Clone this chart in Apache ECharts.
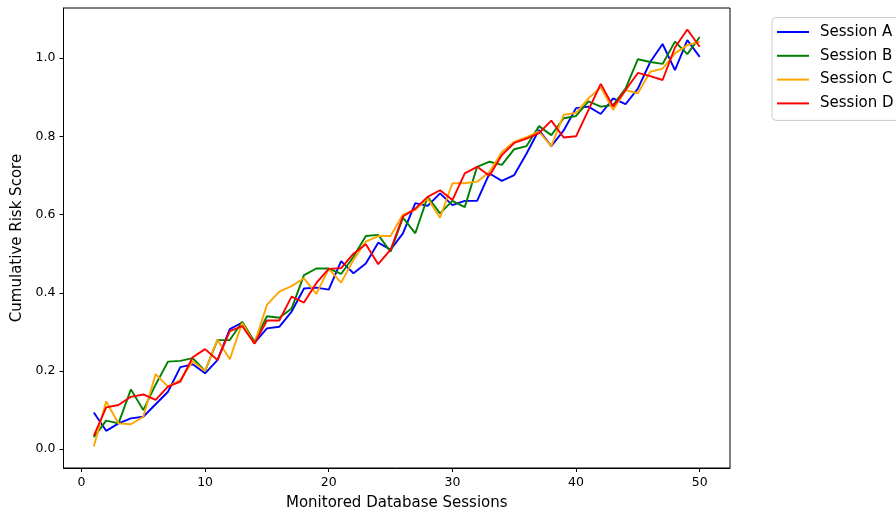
<!DOCTYPE html>
<html>
<head>
<meta charset="utf-8">
<script src="https://cdn.jsdelivr.net/npm/echarts@6/dist/echarts.min.js"></script>
<style>html,body{margin:0;padding:0;background:#fff;}#c{width:896px;height:512px;}</style>
</head>
<body>
<div id="c"></div>
<script>
const sessions = [];
for (let i = 1; i <= 50; i++) sessions.push(i);
const xTicks = [0, 10, 20, 30, 40, 50];
const yTicks = [0.0, 0.2, 0.4, 0.6, 0.8, 1.0];
const seriesNames = ['Session A', 'Session B', 'Session C', 'Session D'];
const seriesColors = ['#0000ff', '#008000', '#ffa500', '#ff0000'];

const sessionA = [0.094,0.047,0.066,0.079,0.083,0.115,0.147,0.210,0.217,0.194,
  0.228,0.307,0.324,0.272,0.309,0.313,0.352,0.411,0.413,0.408,
  0.481,0.450,0.475,0.528,0.510,0.552,0.629,0.622,0.654,0.624,
  0.635,0.635,0.705,0.686,0.701,0.756,0.816,0.775,0.815,0.872,
  0.876,0.857,0.897,0.882,0.922,0.990,1.036,0.969,1.046,1.003];
const sessionB = [0.031,0.073,0.066,0.153,0.100,0.165,0.224,0.226,0.233,0.200,
  0.279,0.279,0.326,0.275,0.340,0.336,0.360,0.445,0.462,0.462,
  0.448,0.492,0.545,0.548,0.505,0.592,0.552,0.645,0.603,0.635,
  0.619,0.722,0.735,0.727,0.767,0.775,0.826,0.803,0.846,0.852,
  0.889,0.876,0.880,0.922,0.997,0.990,0.985,1.042,1.010,1.054];
const sessionC = [0.007,0.122,0.066,0.064,0.083,0.192,0.160,0.177,0.225,0.200,
  0.280,0.230,0.323,0.270,0.369,0.403,0.417,0.437,0.397,0.461,
  0.426,0.484,0.531,0.545,0.545,0.600,0.612,0.641,0.592,0.680,
  0.680,0.684,0.709,0.760,0.786,0.798,0.812,0.775,0.855,0.860,
  0.897,0.925,0.867,0.918,0.910,0.965,0.973,1.012,1.033,1.042];
const sessionD = [0.034,0.107,0.113,0.134,0.140,0.126,0.160,0.173,0.235,0.256,
  0.228,0.302,0.315,0.270,0.329,0.329,0.390,0.375,0.425,0.461,
  0.463,0.500,0.524,0.473,0.510,0.595,0.615,0.645,0.662,0.637,
  0.705,0.722,0.699,0.752,0.783,0.794,0.808,0.840,0.797,0.800,
  0.867,0.934,0.876,0.918,0.962,0.954,0.944,1.027,1.073,1.029];
const allValues = [sessionA, sessionB, sessionC, sessionD];

const FONT = 'DejaVu Sans';
const chart = echarts.init(document.getElementById('c'), null, {renderer: 'canvas'});
chart.setOption({
  animation: false,
  backgroundColor: '#ffffff',
  grid: {left: 63.5, top: 8, right: 166, bottom: 44, outerBoundsMode: 'none', containLabel: false,
    show: true, borderColor: '#000', borderWidth: 1, backgroundColor: 'transparent'},
  legend: {
    orient: 'vertical', left: 772, top: 17.5,
    data: seriesNames.map(n => ({name: n, icon: 'rect'})),
    itemWidth: 32, itemHeight: 2, itemGap: 7.8,
    padding: [6.5, 40, 9, 5],
    borderColor: '#cccccc', borderWidth: 1, borderRadius: 4,
    backgroundColor: '#fff',
    textStyle: {fontFamily: FONT, fontSize: 15, color: '#000', padding: [0, 0, 0, 6], lineHeight: 16}
  },
  xAxis: {
    type: 'value', min: -1.45, max: 52.45,
    name: 'Monitored Database Sessions', nameLocation: 'middle', nameGap: 28,
    nameTextStyle: {fontFamily: FONT, fontSize: 15, color: '#000'},
    axisLine: {show: true, onZero: false, lineStyle: {color: '#000', width: 1}},
    axisTick: {show: true, length: 4, lineStyle: {color: '#000'}, customValues: xTicks},
    axisLabel: {fontFamily: FONT, fontSize: 12.5, color: '#000', margin: 8, customValues: xTicks},
    splitLine: {show: false}
  },
  yAxis: {
    type: 'value', min: -0.048, max: 1.128,
    name: 'Cumulative Risk Score', nameLocation: 'middle', nameGap: 31,
    nameTextStyle: {fontFamily: FONT, fontSize: 15, color: '#000'},
    axisLine: {show: true, onZero: false, lineStyle: {color: '#000', width: 1}},
    axisTick: {show: true, length: 4, lineStyle: {color: '#000'}, customValues: yTicks},
    axisLabel: {fontFamily: FONT, fontSize: 12.5, color: '#000', margin: 8,
      customValues: yTicks, formatter: v => v.toFixed(1)},
    splitLine: {show: false}
  },
  series: seriesNames.map((n, k) => ({
    name: n, type: 'line', symbol: 'none',
    data: sessions.map((x, i) => [x, allValues[k][i]]),
    lineStyle: {color: seriesColors[k], width: 1.9},
    itemStyle: {color: seriesColors[k]},
    z: 2 + k
  }))
});
</script>
</body>
</html>
